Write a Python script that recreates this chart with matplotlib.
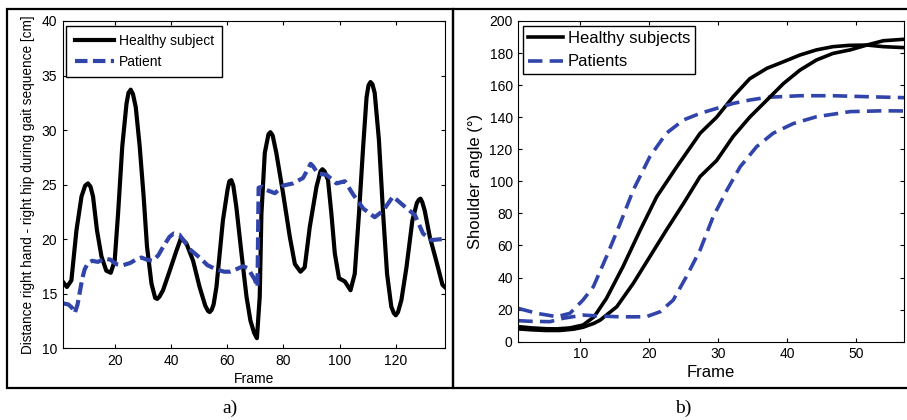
import matplotlib
matplotlib.use("Agg")
import matplotlib.pyplot as plt
from matplotlib.patches import Rectangle

plt.rcParams['font.family'] = ['Liberation Sans', 'DejaVu Sans']

# ---- panel a) : distance right hand - right hip ----
frames_healthy_a = [1.5, 3.0, 4.6, 6.4, 8.2, 9.5, 10.5, 11.4, 12.3, 13.7, 15.3, 17.0, 18.6, 20.0, 21.2,
                    22.7, 24.2, 24.9, 25.7, 26.5, 27.5, 28.9, 30.3, 31.5, 33.1, 34.4, 35.1, 35.9,
                    37.2, 39.6, 41.8, 43.6, 45.5, 47.9, 50.2, 52.2, 53.2, 53.8, 54.5, 55.2, 56.2,
                    58.5, 60.2, 60.8, 61.5, 62.2, 63.3, 65.1, 66.9, 68.3, 69.6, 70.6, 71.6, 72.2,
                    73.4, 74.7, 75.4, 76.2, 77.5, 79.9, 82.3, 84.1, 86.1, 87.6, 89.4, 91.8, 93.2,
                    93.9, 94.7, 95.9, 97.1, 98.3, 99.8, 101.9, 103.9, 105.4, 106.9, 108.4, 109.6,
                    110.3, 111.0, 111.7, 112.5, 114.0, 115.5, 116.9, 118.4, 119.3, 120.0, 120.8,
                    122.0, 123.8, 125.9, 127.5, 128.2, 128.8, 129.4, 130.3, 132.1, 134.5, 136.6, 137.4]
healthy_a = [16.1, 15.6, 16.2, 20.8, 23.9, 24.9, 25.1, 24.8, 23.9, 20.8, 18.4, 17.1, 16.9, 18.0, 22.3,
             28.5, 32.4, 33.4, 33.7, 33.3, 32.1, 28.5, 23.9, 19.3, 15.9, 14.6, 14.5, 14.7,
             15.3, 17.1, 18.8, 20.1, 19.6, 18.0, 15.6, 13.9, 13.4, 13.3, 13.5, 14.0, 15.6,
             21.7, 24.6, 25.3, 25.4, 24.9, 22.9, 18.7, 14.7, 12.5, 11.4, 10.9, 14.7, 22.3,
             27.9, 29.6, 29.8, 29.5, 27.9, 24.2, 20.2, 17.7, 17.0, 17.4, 21.1, 24.8, 26.2,
             26.4, 26.2, 25.4, 22.3, 18.7, 16.4, 16.1, 15.3, 16.8, 22.3, 28.5, 33.0,
             34.1, 34.4, 34.2, 33.4, 29.1, 22.3, 16.8, 13.8, 13.2, 13.0, 13.3,
             14.4, 17.4, 21.7, 23.3, 23.6, 23.7, 23.4, 22.6, 20.2, 17.9, 15.8, 15.6]

frames_patient_a = [1.5, 3.5, 4.8, 5.8, 6.8, 7.5, 8.5, 9.3, 10.5, 12.0, 14.0, 16.5, 18.5, 20.5,
                    23.0, 25.5, 27.5, 29.5, 31.5, 33.5, 35.5, 37.5, 39.5, 41.0, 43.0, 45.0, 47.0,
                    50.2, 53.0, 56.2, 59.0, 60.9, 63.0, 65.7, 67.5, 68.6, 69.8, 70.8, 71.2, 72.5,
                    74.0, 77.0, 79.9, 83.4, 87.0, 88.5, 89.7, 90.5, 92.3, 95.3, 98.9, 101.9,
                    104.8, 108.4, 112.5, 115.5, 119.0, 122.6, 126.8, 129.7, 132.7, 136.8, 137.4]
patient_a = [14.1, 14.0, 13.7, 13.2, 14.0, 15.0, 16.4, 17.2, 17.8, 18.0, 17.9, 18.2, 18.1, 17.7,
             17.6, 17.8, 18.1, 18.3, 18.1, 18.0, 18.5, 19.4, 20.2, 20.5, 20.4, 19.7, 19.0,
             18.3, 17.6, 17.2, 17.0, 17.0, 17.2, 17.5, 17.3, 16.8, 16.3, 15.6, 24.7, 24.8,
             24.5, 24.2, 24.9, 25.1, 25.6, 26.3, 26.9, 26.7, 26.0, 25.9, 25.1, 25.3,
             24.1, 22.8, 22.0, 22.6, 23.9, 23.1, 22.2, 20.5, 19.9, 20.0, 20.0]

# ---- panel b) : shoulder angle ----
frames_h1 = [1, 3, 5, 6.6, 8.5, 10.4, 12, 13.8, 16.2, 18.7, 21.1, 24, 27.4, 29.8, 32.2, 34.6,
             37.1, 39.5, 41.9, 44.3, 46.7, 49, 51.6, 54, 57]
healthy1 = [9.4, 8.6, 8.1, 8.0, 8.6, 10.4, 15.5, 27, 46.8, 69.6, 90.4, 109, 130, 140, 152.8, 164,
            170.5, 174.6, 178.8, 182, 184, 184.8, 185, 184, 183.4]

frames_h2 = [1, 3, 5, 7, 9, 10.4, 12, 12.9, 15.3, 17.7, 20.1, 22.5, 25, 27.4, 29.8, 32.2, 34.6,
             37.1, 39.5, 41.9, 44.3, 46.7, 49.2, 51.6, 54, 57]
healthy2 = [8.0, 7.4, 7.0, 7.0, 7.8, 9.0, 11.5, 13.5, 21.8, 36.4, 53, 69.6, 86.3, 103, 113, 128, 140,
            150.7, 161, 169.4, 175.7, 179.8, 182, 185, 187.7, 188.6]

frames_p1 = [1, 3.7, 6.6, 8.5, 10.4, 11.9, 13.8, 15.8, 17.7, 20.1, 22.5, 25, 27.4, 29.8, 32.2,
             34.6, 37.1, 41.9, 46.7, 51.6, 57]
patient1 = [20.8, 17.7, 15.6, 17.7, 26, 34.3, 53, 73.8, 94.6, 115.4, 130, 138.3, 142.4, 145.5, 148.6,
            150.7, 152.4, 153.4, 153.4, 152.8, 152.2]

frames_p2 = [1, 3, 5.6, 7.5, 10.4, 13, 15.3, 17.5, 19.6, 21.6, 23.5, 25.4, 27.4, 29.3, 31.3, 33.2,
             35.6, 38, 40.9, 44.3, 49.2, 54, 57]
patient2 = [13.1, 12.7, 12.5, 14.6, 16.6, 16.0, 15.6, 15.5, 15.6, 18.7, 26, 40.5, 57.2, 78, 94.6, 109,
            121.6, 130, 136, 140.3, 143.5, 144, 143.9]

blue = '#3044aa'

fig = plt.figure(figsize=(9.07, 4.2), dpi=100)

# panel borders
fig.patches.append(Rectangle((7/907, 1-388/420), 446/907, 379/420, transform=fig.transFigure,
                             fill=False, ec='black', lw=1.6))
fig.patches.append(Rectangle((453/907, 1-388/420), 460/907, 379/420, transform=fig.transFigure,
                             fill=False, ec='black', lw=1.6))

# left
ax1 = fig.add_axes([0.0691, 0.1714, 0.4215, 0.7786])
ax1.plot(frames_healthy_a, healthy_a, color='black', lw=3, label='Healthy subject',
         solid_joinstyle='round')
ax1.plot(frames_patient_a, patient_a, color=blue, lw=3, dashes=(3, 1.3), label='Patient')
ax1.set_xlim(1.5, 137.5)
ax1.set_ylim(10, 40)
ax1.set_xticks(range(20, 121, 20))
ax1.set_yticks(range(10, 41, 5))
ax1.tick_params(direction='in', top=True, right=True, length=3, labelsize=10, pad=4)
ax1.set_xlabel('Frame', fontsize=10)
ax1.xaxis.set_label_coords(0.5, -0.073)
ax1.set_ylabel('Distance right hand - right hip during gait sequence [cm]', fontsize=9.8)
ax1.yaxis.set_label_coords(-0.0725, 0.5)
leg = ax1.legend(loc='upper left', bbox_to_anchor=(0.01, 0.986), borderaxespad=0, fancybox=False,
                 edgecolor='black', fontsize=10, handlelength=2.8, handletextpad=0.35,
                 framealpha=1, borderpad=0.6)
leg.get_frame().set_linewidth(1)
for s in ax1.spines.values():
    s.set_linewidth(0.8)

# right
ax2 = fig.add_axes([0.5714, 0.1864, 0.4253, 0.7636])
ax2.plot(frames_h1, healthy1, color='black', lw=2.6, label='Healthy subjects')
ax2.plot(frames_p1, patient1, color=blue, lw=2.6, dashes=(4, 2), label='Patients')
ax2.plot(frames_h2, healthy2, color='black', lw=2.6)
ax2.plot(frames_p2, patient2, color=blue, lw=2.6, dashes=(4, 2))
ax2.set_xlim(1, 57)
ax2.set_ylim(0, 200)
ax2.set_xticks(range(10, 51, 10))
ax2.set_yticks(range(0, 201, 20))
ax2.tick_params(direction='in', top=True, right=True, length=3, labelsize=10, pad=4)
ax2.set_xlabel('Frame', fontsize=12)
ax2.xaxis.set_label_coords(0.5, -0.073)
ax2.set_ylabel('Shoulder angle (°)', fontsize=12)
ax2.yaxis.set_label_coords(-0.0915, 0.5)
leg2 = ax2.legend(loc='upper left', bbox_to_anchor=(0.011, 0.984), borderaxespad=0, fancybox=False,
                  edgecolor='black', fontsize=12, handlelength=2.1, handletextpad=0.3,
                  framealpha=1, borderpad=0.3)
leg2.get_frame().set_linewidth(1)
for s in ax2.spines.values():
    s.set_linewidth(0.8)

fig.text(0.2536, 0.028, 'a)', family='Liberation Serif', fontsize=14, ha='center', va='center')
fig.text(0.753, 0.028, 'b)', family='Liberation Serif', fontsize=14, ha='center', va='center')

plt.savefig('out.png', dpi=100)
